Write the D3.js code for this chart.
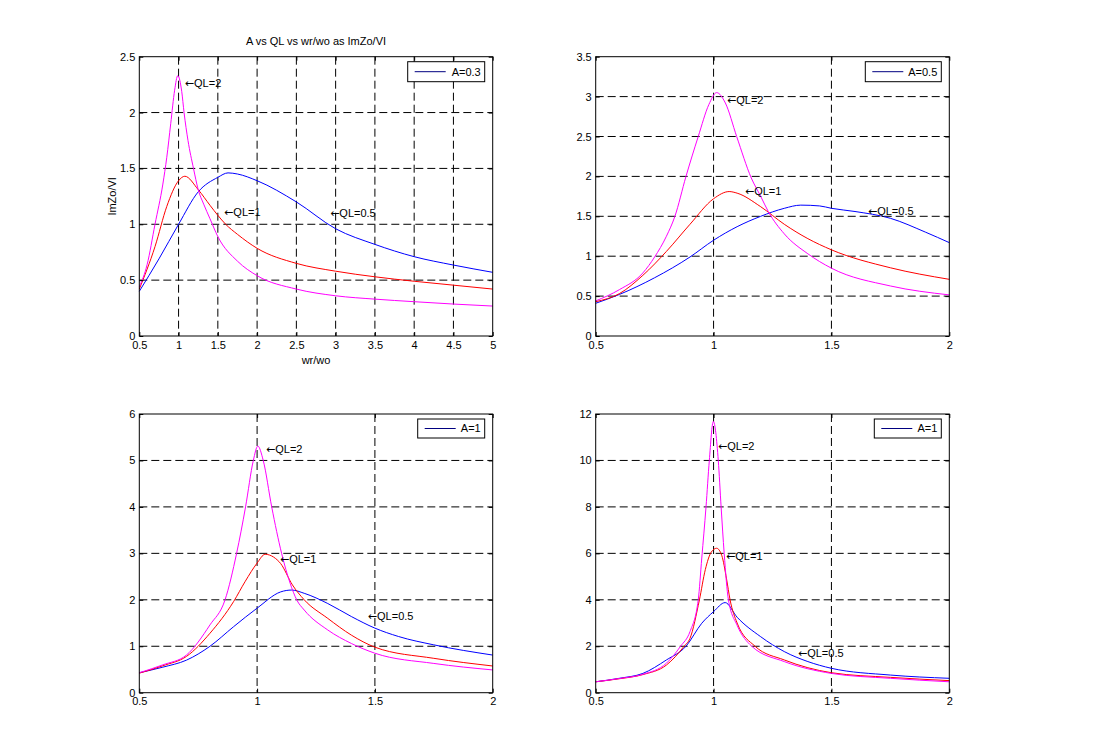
<!DOCTYPE html>
<html>
<head>
<meta charset="utf-8">
<script src="https://cdn.jsdelivr.net/npm/d3@7"></script>
<style>
  body { margin: 0; background: #fff; }
  svg text { font-family: "Liberation Sans", Arial, sans-serif; font-size: 11px; fill: #000; }
  svg text .arrow { font-family: "DejaVu Sans", sans-serif; font-size: 11px; }
</style>
</head>
<body>
<div id="chart"></div>
<script>
// ---- data: [wr/wo, ImZo/VI] ----

// top left, A = 0.3
var tlQL05 = [[0.5,0.40],[0.75,0.69],[1.0,1.0],[1.25,1.29],[1.5,1.42],[1.63,1.46],[1.75,1.45],[2.0,1.39],[2.5,1.2],[3.0,0.96],[3.5,0.82],[4.0,0.71],[4.5,0.635],[5.0,0.57]];
var tlQL1 = [[0.5,0.42],[0.7,0.8],[0.85,1.16],[1.0,1.39],[1.08,1.43],[1.25,1.31],[1.4,1.17],[1.5,1.08],[1.6,1.0],[1.75,0.91],[2.0,0.785],[2.5,0.65],[3.0,0.58],[3.5,0.53],[4.0,0.49],[4.5,0.455],[5.0,0.42]];
var tlQL2 = [[0.5,0.44],[0.6,0.64],[0.7,1.0],[0.8,1.36],[0.85,1.6],[0.9,1.9],[0.95,2.2],[0.99,2.33],[1.04,2.19],[1.07,2.0],[1.12,1.75],[1.19,1.5],[1.25,1.31],[1.32,1.18],[1.4,1.05],[1.5,0.89],[1.75,0.67],[2.0,0.54],[2.5,0.42],[3.0,0.36],[3.5,0.33],[4.0,0.307],[4.5,0.286],[5.0,0.268]];

// top right, A = 0.5
var trQL05 = [[0.5,0.41],[0.6,0.52],[0.75,0.73],[0.9,0.99],[1.0,1.2],[1.1,1.37],[1.2,1.5],[1.3,1.6],[1.37,1.64],[1.45,1.63],[1.5,1.6],[1.6,1.56],[1.75,1.475],[1.9,1.3],[2.0,1.17]];
var trQL1 = [[0.5,0.43],[0.6,0.53],[0.7,0.76],[0.8,1.06],[0.9,1.4],[1.0,1.72],[1.066,1.81],[1.1,1.79],[1.2,1.62],[1.3,1.4],[1.4,1.22],[1.5,1.08],[1.75,0.855],[2.0,0.71]];
var trQL2 = [[0.5,0.44],[0.6,0.58],[0.7,0.79],[0.75,0.99],[0.8,1.25],[0.836,1.5],[0.883,2.0],[0.935,2.5],[0.98,2.9],[1.013,3.05],[1.05,2.92],[1.098,2.5],[1.16,1.98],[1.2,1.75],[1.232,1.56],[1.3,1.28],[1.4,1.03],[1.5,0.85],[1.75,0.627],[2.0,0.515]];

// bottom left, A = 1
var blQL05 = [[0.5,0.43],[0.6,0.55],[0.7,0.70],[0.8,1.0],[0.9,1.42],[1.0,1.82],[1.1,2.17],[1.147,2.21],[1.2,2.14],[1.3,1.92],[1.4,1.64],[1.5,1.39],[1.6,1.21],[1.75,1.03],[2.0,0.81]];
var blQL1 = [[0.5,0.42],[0.6,0.58],[0.7,0.78],[0.8,1.28],[0.9,1.96],[0.95,2.4],[1.0,2.79],[1.034,2.98],[1.07,2.92],[1.1,2.78],[1.15,2.32],[1.2,2.0],[1.3,1.6],[1.4,1.24],[1.5,0.98],[1.75,0.74],[2.0,0.575]];
var blQL2 = [[0.5,0.43],[0.6,0.6],[0.7,0.81],[0.8,1.46],[0.864,2.0],[0.913,3.0],[0.951,4.0],[0.984,5.0],[1.003,5.31],[1.026,5.0],[1.062,4.0],[1.104,3.0],[1.14,2.36],[1.168,2.0],[1.2,1.78],[1.3,1.35],[1.4,1.06],[1.5,0.85],[1.75,0.63],[2.0,0.49]];

// bottom right, A = 1
var brQL05 = [[0.5,0.47],[0.6,0.62],[0.7,0.83],[0.8,1.41],[0.883,2.0],[0.95,2.99],[1.0,3.49],[1.049,3.88],[1.1,3.25],[1.2,2.41],[1.3,1.77],[1.4,1.34],[1.5,1.05],[1.75,0.76],[2.0,0.62]];
var brQL1 = [[0.5,0.47],[0.6,0.6],[0.7,0.78],[0.8,1.19],[0.875,2.0],[0.9,2.34],[0.94,4.0],[0.965,5.3],[0.99,6.05],[1.013,6.22],[1.035,5.9],[1.055,4.9],[1.07,4.0],[1.1,3.0],[1.176,2.0],[1.3,1.41],[1.5,0.86],[1.75,0.66],[2.0,0.52]];
var brQL2 = [[0.5,0.47],[0.6,0.61],[0.7,0.79],[0.8,1.27],[0.86,2.0],[0.9,2.63],[0.935,4.0],[0.95,5.8],[0.968,8.0],[0.982,10.0],[0.999,11.68],[1.02,10.0],[1.032,8.0],[1.045,6.0],[1.063,4.0],[1.1,2.9],[1.162,2.0],[1.3,1.34],[1.5,0.83],[1.75,0.62],[2.0,0.47]];

// annotation anchor points [x, y, text]
var tlNotes = [[1.08,2.26,"QL=2"],[1.58,1.11,"QL=1"],[2.93,1.10,"QL=0.5"]];
var trNotes = [[1.057,2.96,"QL=2"],[1.133,1.81,"QL=1"],[1.655,1.56,"QL=0.5"]];
var blNotes = [[1.038,5.25,"QL=2"],[1.097,2.88,"QL=1"],[1.47,1.65,"QL=0.5"]];
var brNotes = [[1.019,10.6,"QL=2"],[1.053,5.88,"QL=1"],[1.358,1.70,"QL=0.5"]];

// tick labels
var xTicksWide = [0.5,1,1.5,2,2.5,3,3.5,4,4.5,5];
var xTicksNarrow = [0.5,1,1.5,2];
var tlYTicks = [0,0.5,1,1.5,2,2.5];
var trYTicks = [0,0.5,1,1.5,2,2.5,3,3.5];
var blYTicks = [0,1,2,3,4,5,6];
var brYTicks = [0,2,4,6,8,10,12];

var legendNames = ["A=0.3", "A=0.5", "A=1", "A=1"];
var seriesColors = ["#0000ff", "#ff0000", "#ff00ff"];

var svg = d3.select("#chart").append("svg")
    .attr("width", 1117)
    .attr("height", 732);

var panels = [
    {left: 139.3, top: 56.7, w: 353.4, h: 279.3, xDom: [0.5, 5], xTicks: xTicksWide, yDom: [0, 2.5], yTicks: tlYTicks,
     curves: [tlQL05, tlQL1, tlQL2], notes: tlNotes, legend: legendNames[0], legW: 77, legH: 20,
     title: "A vs QL vs wr/wo as ImZo/VI", xLabel: "wr/wo", yLabel: "ImZo/VI"},
    {left: 595.7, top: 56.7, w: 353.6, h: 279.3, xDom: [0.5, 2], xTicks: xTicksNarrow, yDom: [0, 3.5], yTicks: trYTicks,
     curves: [trQL05, trQL1, trQL2], notes: trNotes, legend: legendNames[1], legW: 76, legH: 20},
    {left: 139.3, top: 414, w: 353.4, h: 278.7, xDom: [0.5, 2], xTicks: xTicksNarrow, yDom: [0, 6], yTicks: blYTicks,
     curves: [blQL05, blQL1, blQL2], notes: blNotes, legend: legendNames[2], legW: 67, legH: 19},
    {left: 595.7, top: 414, w: 353.6, h: 278.7, xDom: [0.5, 2], xTicks: xTicksNarrow, yDom: [0, 12], yTicks: brYTicks,
     curves: [brQL05, brQL1, brQL2], notes: brNotes, legend: legendNames[3], legW: 67, legH: 19}
];

panels.forEach(drawPanel);

function drawPanel(p) {
    var g = svg.append("g")
        .attr("transform", `translate(${p.left}, ${p.top})`);

    var x = d3.scaleLinear().domain(p.xDom).range([0, p.w]);
    var y = d3.scaleLinear().domain(p.yDom).range([p.h, 0]);

    g.append("rect")
        .attr("width", p.w)
        .attr("height", p.h)
        .attr("fill", "#fff");

    // dashed grid
    g.selectAll(".vgrid")
        .data(p.xTicks.slice(1, -1))
        .enter().append("line")
        .attr("x1", d => x(d)).attr("x2", d => x(d))
        .attr("y1", 0).attr("y2", p.h)
        .attr("stroke", "#000")
        .attr("stroke-dasharray", "8,4");
    g.selectAll(".hgrid")
        .data(p.yTicks.slice(1, -1))
        .enter().append("line")
        .attr("x1", 0).attr("x2", p.w)
        .attr("y1", d => y(d)).attr("y2", d => y(d))
        .attr("stroke", "#000")
        .attr("stroke-dasharray", "8,4");

    // curves
    var line = d3.line()
        .x(d => x(d[0]))
        .y(d => y(d[1]))
        .curve(d3.curveMonotoneX);

    p.curves.forEach(function(c, i) {
        g.append("path")
            .datum(c)
            .attr("d", line)
            .attr("fill", "none")
            .attr("stroke", seriesColors[i])
            .attr("stroke-width", 1);
    });

    // axes, ticks pointing inward
    var fmt = d => String(d);
    g.append("g")
        .attr("transform", `translate(0, ${p.h})`)
        .call(d3.axisBottom(x).tickValues(p.xTicks).tickFormat(fmt).tickSizeInner(-4).tickSizeOuter(0).tickPadding(5));
    g.append("g")
        .call(d3.axisLeft(y).tickValues(p.yTicks).tickFormat(fmt).tickSizeInner(-4).tickSizeOuter(0).tickPadding(4));
    g.append("g")
        .call(d3.axisTop(x).tickValues(p.xTicks).tickFormat("").tickSizeInner(-4).tickSizeOuter(0));
    g.append("g")
        .attr("transform", `translate(${p.w}, 0)`)
        .call(d3.axisRight(y).tickValues(p.yTicks).tickFormat("").tickSizeInner(-4).tickSizeOuter(0));
    g.selectAll(".domain").remove();
    g.selectAll(".tick text")
        .attr("font-family", null)
        .attr("font-size", null);

    g.append("rect")
        .attr("width", p.w)
        .attr("height", p.h)
        .attr("fill", "none")
        .attr("stroke", "#000");

    // annotations
    var notes = g.selectAll(".note")
        .data(p.notes)
        .enter().append("text")
        .attr("x", d => x(d[0]))
        .attr("y", d => y(d[1]))
        .attr("dy", "0.35em");
    notes.append("tspan").attr("class", "arrow").text("\u2190");
    notes.append("tspan").text(d => d[2]);

    // legend
    var lg = g.append("g")
        .attr("transform", `translate(${p.w - p.legW - 8}, 5)`);
    lg.append("rect")
        .attr("width", p.legW)
        .attr("height", p.legH)
        .attr("fill", "#fff")
        .attr("stroke", "#000");
    lg.append("line")
        .attr("x1", 7).attr("x2", 38)
        .attr("y1", p.legH / 2).attr("y2", p.legH / 2)
        .attr("stroke", "#000080");
    lg.append("text")
        .attr("x", p.legW - 4)
        .attr("y", p.legH / 2)
        .attr("dy", "0.35em")
        .style("text-anchor", "end")
        .text(p.legend);

    if (p.title) {
        g.append("text")
            .attr("x", p.w / 2)
            .attr("y", -12)
            .style("text-anchor", "middle")
            .text(p.title);
        g.append("text")
            .attr("x", p.w / 2)
            .attr("y", p.h + 28)
            .style("text-anchor", "middle")
            .text(p.xLabel);
        g.append("text")
            .attr("transform", "rotate(-90)")
            .attr("x", -p.h / 2)
            .attr("y", -23)
            .style("text-anchor", "middle")
            .text(p.yLabel);
    }
}
</script>
</body>
</html>
